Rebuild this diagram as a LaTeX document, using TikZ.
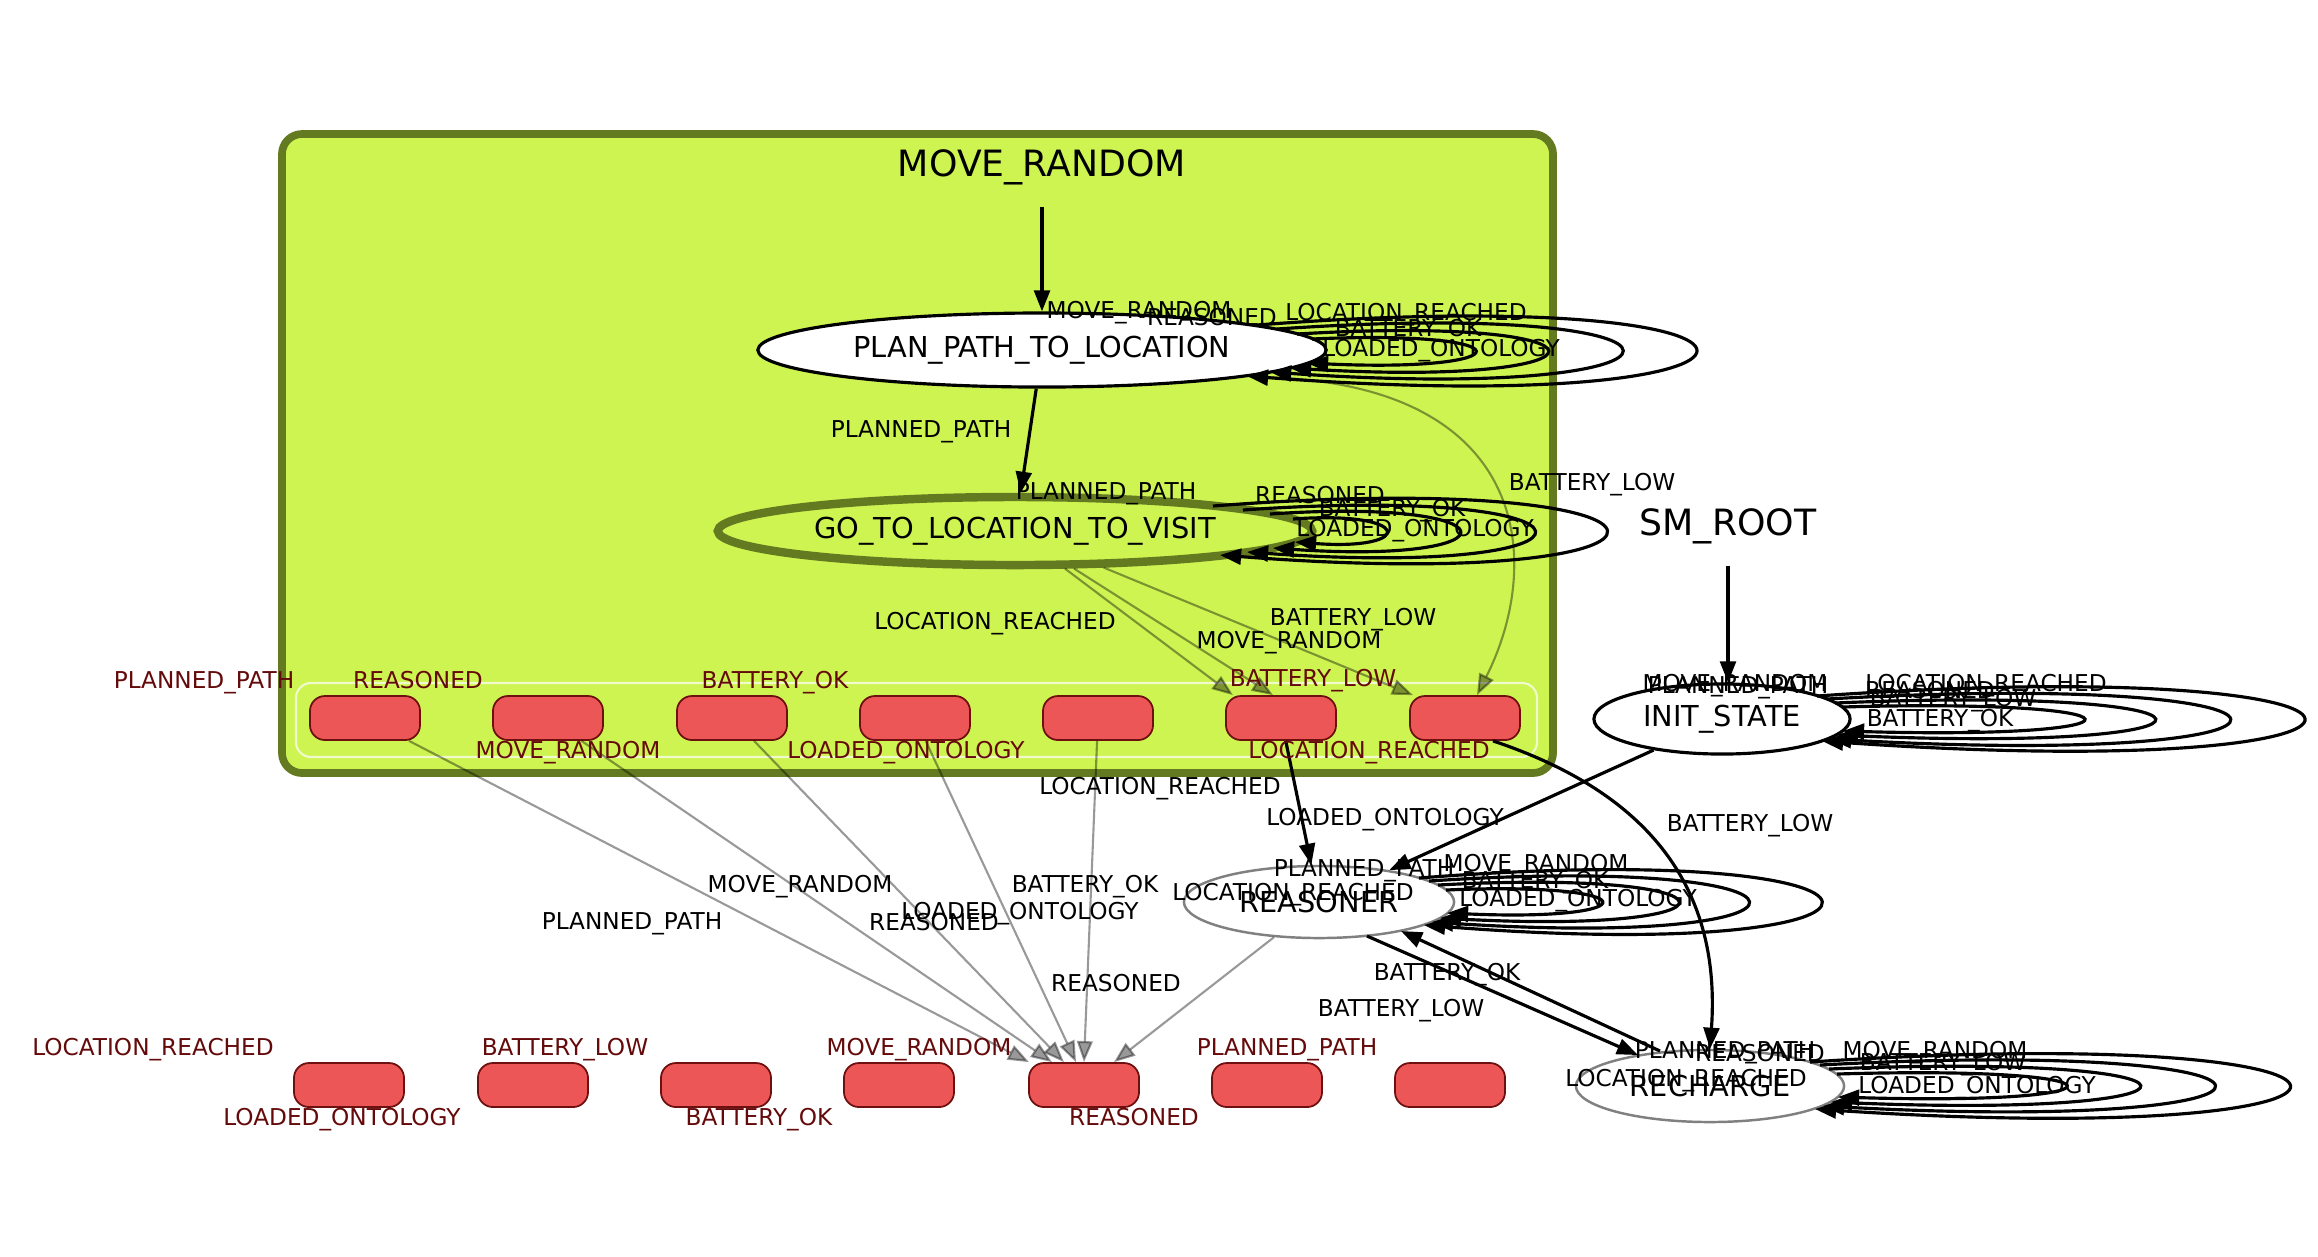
\documentclass[tikz,border=0pt]{standalone}
\usepackage{fontspec}
\setmainfont{DejaVu Sans}
\usetikzlibrary{shapes.geometric,arrows.meta,calc}
\definecolor{clusterfill}{RGB}{206,244,82}
\definecolor{clusterline}{RGB}{100,122,32}
\definecolor{outfill}{RGB}{236,86,86}
\definecolor{outborder}{RGB}{110,16,16}
\definecolor{outtext}{RGB}{100,10,10}
\begin{document}
\begin{tikzpicture}[x=0.01cm, y=-0.01cm,
    state/.style={ellipse, draw, line width=0.9pt, fill=white, inner sep=0pt,
      font=\fontsize{8.2}{9}\selectfont},
    title/.style={inner sep=6pt, font=\fontsize{10.3}{12}\selectfont},
    outcome/.style={rectangle, rounded corners=0.15cm, draw=outborder, line width=0.5pt,
      fill=outfill, minimum width=1.1cm, minimum height=0.44cm},
    edge/.style={line width=0.9pt, -{Triangle[length=6pt,width=4.5pt]}},
    grayedge/.style={edge, line width=0.6pt, opacity=0.4},
    lbl/.style={inner sep=0pt, text height=4.8pt, text depth=0pt,
      font=\fontsize{6.6}{7}\selectfont},
    olbl/.style={lbl, text=outtext}]
  \useasboundingbox (0,0) rectangle (2318,1256);
  \draw[fill=clusterfill, draw=clusterline, line width=2.2pt, rounded corners=0.2cm]
    (282,134) rectangle (1553,773);
  \draw[white, opacity=0.7, line width=0.6pt, rounded corners=0.15cm]
    (296,683) rectangle (1537,757);

  \node[title] (movetitle) at (1042,167) {MOVE\_RANDOM};
  \node[title] (roottitle) at (1728,526) {SM\_ROOT};
  \node[state, minimum width=5.68cm, minimum height=0.74cm] (plan) at (1042,350)
    {PLAN\_PATH\_TO\_LOCATION};
  \node[state, draw=clusterline, fill=none, line width=2.4pt, minimum width=5.94cm,
    minimum height=0.68cm] (goto) at (1015,531) {GO\_TO\_LOCATION\_TO\_VISIT};
  \node[state, minimum width=2.56cm, minimum height=0.70cm] (init) at (1722,719)
    {INIT\_STATE};
  \node[state, draw=gray, line width=0.7pt, minimum width=2.70cm, minimum height=0.72cm]
    (reasoner) at (1319,902) {REASONER};
  \node[state, draw=gray, line width=0.7pt, minimum width=2.68cm, minimum height=0.72cm]
    (recharge) at (1710,1086) {RECHARGE};
  \foreach \x [count=\i] in {365,548,732,915,1098,1281,1465}
    \node[outcome] (m\i) at (\x,718) {};
  \foreach \x [count=\i] in {349,533,716,899,1084,1267,1450}
    \node[outcome] (r\i) at (\x,1085) {};

  \draw[edge] (movetitle) -- (movetitle |- plan.north);
  \draw[edge] (roottitle) -- (roottitle |- init.north);
  \draw[edge] (plan) -- (goto);
  \draw[grayedge] (goto) -- ($(m6.north)+(-48,0)$);
  \draw[grayedge] (goto) -- ($(m6.north)+(-8,0)$);
  \draw[grayedge] (goto) -- ($(m7.north)+(-52,0)$);
  \draw[grayedge] ($(plan)+(214,27)$) .. controls (1530,380) and (1545,560)
    .. ($(m7.north)+(12,0)$);
  \foreach \i/\dx in {1/-55,2/-32,3/-20,4/-8,5/0}
    \draw[grayedge] (m\i) -- ($(r5.north)+(\dx,0)$);
  \draw[grayedge] (reasoner) -- ($(r5.north)+(30,0)$);
  \draw[edge] (m6) -- (reasoner);
  \draw[edge] (init) -- (reasoner);
  \draw[edge] ($(m7.south)+(28,0)$) .. controls (1640,790) and (1722,880) .. (recharge.north);
  \draw[edge] ($(reasoner)+(48,34)$) -- ($(recharge)+(-72,-31)$);
  \draw[edge] ($(recharge)+(-50,-35)$) -- ($(reasoner)+(82,29)$);

  \foreach \sx/\sy/\ex/\ey/\r/\h in {215/-25/205/26/590/45, 235/-21/228/22/463/32,
      255/-16/248/18/337/20, 270/-11/265/13/219/10}
    \draw[edge] ($(plan)+(\sx,\sy)$) .. controls +(\r,-\h) and +(\r,\h) .. ($(plan)+(\ex,\ey)$);
  \foreach \sx/\sy/\ex/\ey/\r/\h in {198/-25/205/24/518/40, 228/-21/232/21/384/27,
      255/-17/258/17/249/17, 278/-12/280/11/121/9}
    \draw[edge] ($(goto)+(\sx,\sy)$) .. controls +(\r,-\h) and +(\r,\h) .. ($(goto)+(\ex,\ey)$);
  \foreach \sx/\sy/\ex/\ey/\r/\h in {95/-23/100/22/644/45, 105/-20/108/20/533/30,
      113/-16/115/16/423/18, 120/-12/121/12/320/9}
    \draw[edge] ($(init)+(\sx,\sy)$) .. controls +(\r,-\h) and +(\r,\h) .. ($(init)+(\ex,\ey)$);
  \foreach \sx/\sy/\ex/\ey/\r/\h in {100/-24/105/23/531/42, 110/-21/113/20/422/28,
      119/-17/121/16/317/17, 127/-12/128/11/205/9}
    \draw[edge] ($(reasoner)+(\sx,\sy)$) .. controls +(\r,-\h) and +(\r,\h) .. ($(reasoner)+(\ex,\ey)$);
  \foreach \sx/\sy/\ex/\ey/\r/\h in {100/-24/105/23/634/42, 110/-21/113/20/522/28,
      119/-17/121/16/411/17, 127/-12/128/11/303/9}
    \draw[edge] ($(recharge)+(\sx,\sy)$) .. controls +(\r,-\h) and +(\r,\h) .. ($(recharge)+(\ex,\ey)$);

  \foreach \x/\y/\t [count=\i] in {1139/310/MOVE\_RANDOM, 1212/317/REASONED,
      1406/312/LOCATION\_REACHED, 1408/328/BATTERY\_OK, 1441/348/LOADED\_ONTOLOGY,
      921/429/PLANNED\_PATH, 1106/491/PLANNED\_PATH, 1320/495/REASONED,
      1392/508/BATTERY\_OK, 1415/528/LOADED\_ONTOLOGY, 1592/482/BATTERY\_LOW,
      995/621/LOCATION\_REACHED, 1353/617/BATTERY\_LOW, 1289/640/MOVE\_RANDOM,
      1160/786/LOCATION\_REACHED, 1385/817/LOADED\_ONTOLOGY, 1750/823/BATTERY\_LOW,
      800/884/MOVE\_RANDOM, 1085/884/BATTERY\_OK, 632/921/PLANNED\_PATH,
      934/922/REASONED, 1020/911/LOADED\_ONTOLOGY, 1116/983/REASONED,
      1364/868/PLANNED\_PATH, 1293/892/LOCATION\_REACHED, 1536/863/MOVE\_RANDOM,
      1535/880/BATTERY\_OK, 1578/898/LOADED\_ONTOLOGY, 1447/972/BATTERY\_OK,
      1401/1008/BATTERY\_LOW, 1725/1050/PLANNED\_PATH, 1760/1053/REASONED,
      1686/1078/LOCATION\_REACHED, 1935/1050/MOVE\_RANDOM, 1943/1062/BATTERY\_LOW,
      1977/1085/LOADED\_ONTOLOGY, 1735/683/MOVE\_RANDOM, 1738/685/PLANNED\_PATH,
      1986/683/LOCATION\_REACHED, 1930/690/REASONED, 1953/698/BATTERY\_LOW,
      1940/718/BATTERY\_OK}
    \node[lbl] (l\i) at (\x,\y) {\t};
  \foreach \x/\y/\t [count=\i] in {204/680/PLANNED\_PATH, 418/680/REASONED,
      775/680/BATTERY\_OK, 1313/678/BATTERY\_LOW, 568/750/MOVE\_RANDOM,
      906/750/LOADED\_ONTOLOGY, 1369/750/LOCATION\_REACHED,
      153/1047/LOCATION\_REACHED, 565/1047/BATTERY\_LOW, 919/1047/MOVE\_RANDOM,
      1287/1047/PLANNED\_PATH, 342/1117/LOADED\_ONTOLOGY, 759/1117/BATTERY\_OK,
      1134/1117/REASONED}
    \node[olbl] (o\i) at (\x,\y) {\t};
\end{tikzpicture}
\end{document}
